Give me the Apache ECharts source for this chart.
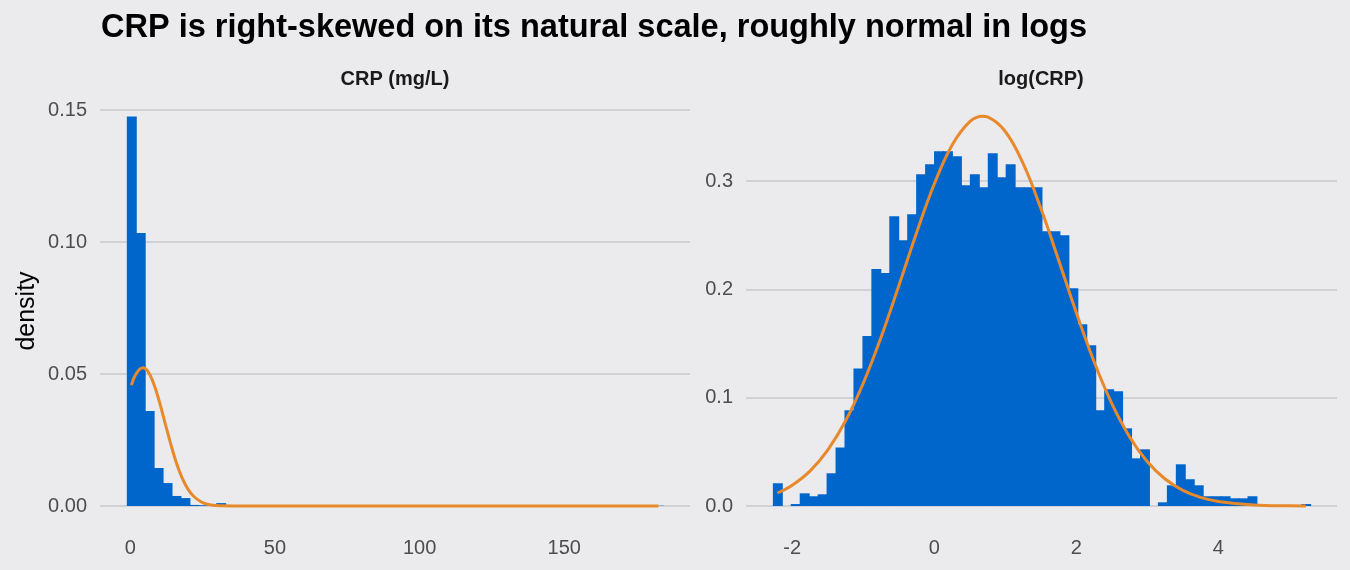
<!DOCTYPE html>
<html>
<head>
<meta charset="utf-8">
<script src="https://cdn.jsdelivr.net/npm/echarts@6/dist/echarts.min.js"></script>
<style>
  html, body { margin: 0; padding: 0; background: #ebebee; }
  #chart { width: 1350px; height: 570px; }
</style>
</head>
<body>
<div id="chart"></div>
<script>
// histogram bins (60 bins per panel), densities
const crpBinStart = -1.17
const crpBinWidth = 3.089
const crpDensity = [
  0.1475, 0.1034, 0.036, 0.0144, 0.0087, 0.0038, 0.003, 0.0004, 0.0003, 0.0002,
  0.0011, 0.0003, 0.0003, 0, 0, 0, 0, 0, 0, 0,
  0, 0, 0, 0, 0, 0, 0, 0, 0, 0,
  0, 0, 0, 0, 0, 0, 0, 0, 0, 0,
  0, 0, 0, 0, 0, 0, 0, 0, 0, 0,
  0, 0, 0, 0, 0, 0, 0, 0, 0, 0.0001
]

const logBinStart = -2.272
const logBinWidth = 0.12605
const logDensity = [
  0.021, 0, 0.0018, 0.0117, 0.009, 0.0108, 0.0302, 0.054, 0.0884, 0.127,
  0.157, 0.2188, 0.215, 0.2675, 0.2453, 0.2694, 0.3063, 0.3155, 0.3275, 0.3275,
  0.3229, 0.2961, 0.3063, 0.2943, 0.3257, 0.3035, 0.3155, 0.2943, 0.2943, 0.2943,
  0.2536, 0.2536, 0.2499, 0.201, 0.1678, 0.1484, 0.0884, 0.1078, 0.106, 0.0717,
  0.044, 0.0523, 0, 0.0034, 0.0191, 0.0385, 0.0247, 0.0191, 0.009, 0.009,
  0.009, 0.0071, 0.0071, 0.009, 0, 0, 0, 0, 0, 0.0018
]

// fitted normal curves
const crpCurveX = [0.41, 2, 4.35, 6, 8, 10, 12, 14, 16, 18, 20, 22, 25, 28, 32, 40, 60, 100, 140, 182.5]
const crpCurveY = [0.0458, 0.05, 0.0524, 0.0512, 0.0467, 0.0398, 0.0316, 0.0235, 0.0162, 0.0105,
  0.0063, 0.0036, 0.0013, 0.0004, 0.0001, 0, 0, 0, 0, 0]

const logCurveX = [-2.208, -2, -1.75, -1.5, -1.25, -1, -0.75, -0.5, -0.25, 0, 0.25, 0.5, 0.686, 0.75,
  1, 1.25, 1.5, 1.75, 2, 2.25, 2.5, 2.75, 3, 3.25, 3.5, 3.75, 4, 4.5, 5, 5.228]
const logCurveY = [0.012, 0.0192, 0.0322, 0.0516, 0.0784, 0.1133, 0.1556, 0.2031, 0.252, 0.2972,
  0.333, 0.3548, 0.3598, 0.3592, 0.3457, 0.3162, 0.2748, 0.2271, 0.1783, 0.1331, 0.0944, 0.0637,
  0.0408, 0.0249, 0.0144, 0.0079, 0.0041, 0.001, 0.0002, 0.0001]

const crpTicks = [0, 50, 100, 150]
const logTicks = [-2, 0, 2, 4]

const barColor = '#0066cc'
const curveColor = '#e8892b'
const gridColor = '#c9c9cc'
const labelFont = 'Liberation Sans, Arial, sans-serif'

function histData(start, width, values) {
  return values.map((v, i) => [start + i * width, start + (i + 1) * width, v])
}

function renderBin(params, api) {
  const h = api.value(2)
  if (!h) return null
  const p0 = api.coord([api.value(0), h])
  const p1 = api.coord([api.value(1), 0])
  // +1px so neighbouring bins don't show antialiased seams
  return {
    type: 'rect',
    shape: { x: p0[0], y: p0[1], width: p1[0] - p0[0] + 1, height: p1[1] - p0[1] },
    style: { fill: barColor }
  }
}

function xAxis(index, min, max, ticks) {
  return {
    type: 'value', gridIndex: index, min: min, max: max,
    axisLine: { show: false }, axisTick: { show: false }, splitLine: { show: false },
    axisLabel: { customValues: ticks, color: '#4d4d4d', fontSize: 20, fontFamily: labelFont, margin: 32 }
  }
}

// showTop: the top of the axis is a real tick (line + label) or just padding
function yAxis(index, max, interval, digits, showTop) {
  return {
    type: 'value', gridIndex: index, min: 0, max: max, interval: interval,
    axisLine: { show: false }, axisTick: { show: false },
    splitLine: { show: true, showMaxLine: showTop, lineStyle: { color: gridColor, width: 1.6 } },
    axisLabel: {
      showMaxLabel: showTop,
      color: '#4d4d4d', fontSize: 20, fontFamily: labelFont, margin: 13,
      formatter: v => v.toFixed(digits)
    }
  }
}

const chart = echarts.init(document.getElementById('chart'))
chart.setOption({
  backgroundColor: '#ebebee',
  animation: false,
  title: [
    {
      text: 'CRP is right-skewed on its natural scale, roughly normal in logs',
      left: 101, top: 12, padding: 0,
      textStyle: { fontSize: 32.5, fontWeight: 'bold', color: '#000', fontFamily: labelFont }
    },
    {
      text: 'CRP (mg/L)', left: 395, top: 69, padding: 0, textAlign: 'center',
      textStyle: { fontSize: 20, fontWeight: 'bold', color: '#1a1a1a', fontFamily: labelFont }
    },
    {
      text: 'log(CRP)', left: 1041, top: 69, padding: 0, textAlign: 'center',
      textStyle: { fontSize: 20, fontWeight: 'bold', color: '#1a1a1a', fontFamily: labelFont }
    }
  ],
  graphic: [{
    type: 'text', x: 27, y: 311, rotation: Math.PI / 2,
    style: { text: 'density', align: 'center', verticalAlign: 'middle', fill: '#000', font: '25px Liberation Sans, Arial, sans-serif' }
  }],
  grid: [
    { left: 100, width: 590, top: 110, height: 396 },
    { left: 746, width: 591, top: 116, height: 390 }
  ],
  xAxis: [
    xAxis(0, -10.44, 193.44, crpTicks),
    xAxis(1, -2.65, 5.669, logTicks)
  ],
  yAxis: [
    yAxis(0, 0.15, 0.05, 2, true),
    yAxis(1, 0.36, 0.1, 1, false)
  ],
  series: [
    {
      type: 'custom', xAxisIndex: 0, yAxisIndex: 0, renderItem: renderBin,
      encode: { x: [0, 1], y: 2 }, data: histData(crpBinStart, crpBinWidth, crpDensity)
    },
    {
      type: 'custom', xAxisIndex: 1, yAxisIndex: 1, renderItem: renderBin,
      encode: { x: [0, 1], y: 2 }, data: histData(logBinStart, logBinWidth, logDensity)
    },
    {
      type: 'line', xAxisIndex: 0, yAxisIndex: 0, smooth: 0.4, showSymbol: false, clip: false,
      lineStyle: { color: curveColor, width: 3 },
      data: crpCurveX.map((x, i) => [x, crpCurveY[i]])
    },
    {
      type: 'line', xAxisIndex: 1, yAxisIndex: 1, smooth: 0.4, showSymbol: false, clip: false,
      lineStyle: { color: curveColor, width: 3 },
      data: logCurveX.map((x, i) => [x, logCurveY[i]])
    }
  ]
})
</script>
</body>
</html>
